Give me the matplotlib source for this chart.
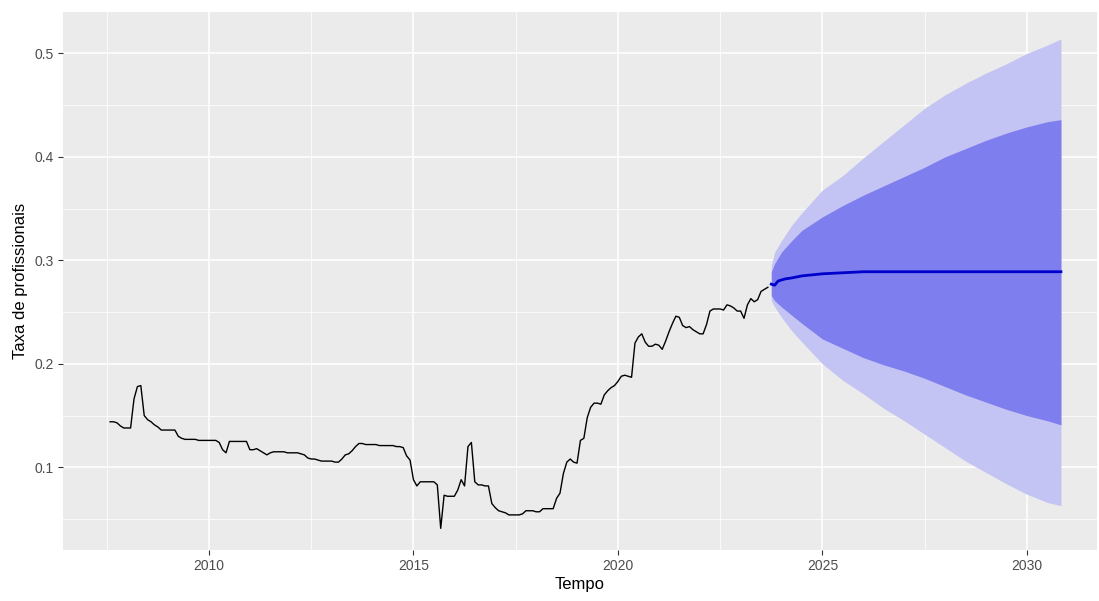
import matplotlib.pyplot as plt
import numpy as np

# serie mensal observada (ago/2007 - set/2023)
inicio = 2007 + 7 / 12
taxa = [
    0.144, 0.144, 0.143, 0.140, 0.138, 0.138, 0.138, 0.166, 0.178, 0.179,
    0.150, 0.146, 0.144, 0.141, 0.139, 0.136, 0.136, 0.136, 0.136, 0.136,
    0.130, 0.128, 0.127, 0.127, 0.127, 0.127, 0.126, 0.126, 0.126, 0.126,
    0.126, 0.126, 0.124, 0.117, 0.114, 0.125, 0.125, 0.125, 0.125, 0.125,
    0.125, 0.117, 0.117, 0.118, 0.116, 0.114, 0.112, 0.114, 0.115, 0.115,
    0.115, 0.115, 0.114, 0.114, 0.114, 0.114, 0.113, 0.112, 0.109, 0.108,
    0.108, 0.107, 0.106, 0.106, 0.106, 0.106, 0.105, 0.105, 0.108, 0.112,
    0.113, 0.116, 0.120, 0.123, 0.123, 0.122, 0.122, 0.122, 0.122, 0.121,
    0.121, 0.121, 0.121, 0.121, 0.120, 0.120, 0.119, 0.111, 0.107, 0.088,
    0.082, 0.086, 0.086, 0.086, 0.086, 0.086, 0.083, 0.041, 0.073, 0.072,
    0.072, 0.072, 0.078, 0.088, 0.082, 0.120, 0.124, 0.086, 0.083, 0.083,
    0.082, 0.082, 0.065, 0.061, 0.058, 0.057, 0.056, 0.054, 0.054, 0.054,
    0.054, 0.055, 0.058, 0.058, 0.058, 0.057, 0.057, 0.060, 0.060, 0.060,
    0.060, 0.070, 0.075, 0.094, 0.105, 0.108, 0.105, 0.104, 0.126, 0.128,
    0.148, 0.158, 0.162, 0.162, 0.161, 0.170, 0.174, 0.177, 0.179, 0.183,
    0.188, 0.189, 0.188, 0.187, 0.220, 0.226, 0.229, 0.221, 0.217, 0.217,
    0.219, 0.218, 0.214, 0.222, 0.231, 0.239, 0.246, 0.245, 0.237, 0.235,
    0.236, 0.233, 0.231, 0.229, 0.229, 0.238, 0.251, 0.253, 0.253, 0.253,
    0.252, 0.257, 0.256, 0.254, 0.251, 0.251, 0.244, 0.257, 0.263, 0.260,
    0.262, 0.270, 0.272, 0.274,
]

# previsao: media
t_media = [2023.75, 2023.833, 2023.917, 2024.0, 2024.083, 2024.25, 2024.5,
           2024.75, 2025.0, 2025.5, 2026.0, 2030.833]
media = [0.277, 0.276, 0.280, 0.281, 0.282, 0.283, 0.285,
         0.286, 0.287, 0.288, 0.289, 0.289]

# previsao: intervalos 80% e 95%
t_prev = [2023.75, 2023.833, 2024.0, 2024.25, 2024.5, 2025.0, 2025.5, 2026.0,
          2026.5, 2027.0, 2027.5, 2028.0, 2028.5, 2029.0, 2029.5, 2030.0,
          2030.5, 2030.833]
sup95 = [0.295, 0.308, 0.319, 0.334, 0.346, 0.368, 0.382, 0.399, 0.415,
         0.431, 0.447, 0.460, 0.471, 0.481, 0.490, 0.500, 0.508, 0.514]
sup80 = [0.289, 0.297, 0.308, 0.319, 0.329, 0.342, 0.353, 0.363, 0.372,
         0.381, 0.390, 0.400, 0.408, 0.416, 0.423, 0.429, 0.434, 0.436]
inf80 = [0.266, 0.261, 0.255, 0.247, 0.239, 0.224, 0.215, 0.206, 0.199,
         0.193, 0.186, 0.178, 0.170, 0.163, 0.156, 0.150, 0.145, 0.141]
inf95 = [0.261, 0.255, 0.245, 0.232, 0.221, 0.200, 0.184, 0.171, 0.157,
         0.145, 0.132, 0.119, 0.106, 0.095, 0.084, 0.074, 0.066, 0.063]

plt.rcParams['font.family'] = ['Liberation Sans', 'DejaVu Sans']

t_obs = inicio + np.arange(len(taxa)) / 12

fig = plt.figure(figsize=(10.99, 6.01), dpi=100)
ax = fig.add_axes([0.0573, 0.0849, 0.9407, 0.8951])
ax.set_facecolor('#EBEBEB')

ax.fill_between(t_prev, inf95, sup95, color='#C4C4F4', lw=0, zorder=2)
ax.fill_between(t_prev, inf80, sup80, color='#7E7EEE', lw=0, zorder=3)
ax.plot(t_media, media, color='#0000CC', lw=2.0, zorder=4)
ax.plot(t_obs, taxa, color='black', lw=1.0, zorder=4)

ax.set_xlim(2006.43, 2031.71)
ax.set_ylim(0.0201, 0.540)
ax.set_xticks([2010, 2015, 2020, 2025, 2030])
ax.set_xticks([2007.5, 2012.5, 2017.5, 2022.5, 2027.5], minor=True)
ax.set_yticks([0.1, 0.2, 0.3, 0.4, 0.5])
ax.set_yticks([0.05, 0.15, 0.25, 0.35, 0.45], minor=True)
ax.set_yticklabels(['0.1', '0.2', '0.3', '0.4', '0.5'])

ax.grid(which='major', color='white', lw=1.1, zorder=1)
ax.grid(which='minor', color='white', lw=0.55, zorder=1)
ax.set_axisbelow(True)
for s in ax.spines.values():
    s.set_visible(False)
ax.tick_params(which='major', length=3.5, width=0.8, color='#333333',
               labelcolor='#4D4D4D', labelsize=10, pad=3)
ax.tick_params(which='minor', length=0)

ax.set_xlabel('Tempo', fontsize=12, color='black', labelpad=3)
ax.set_ylabel('Taxa de profissionais', fontsize=12, color='black', labelpad=5)

fig.savefig('out.png', dpi=100)
